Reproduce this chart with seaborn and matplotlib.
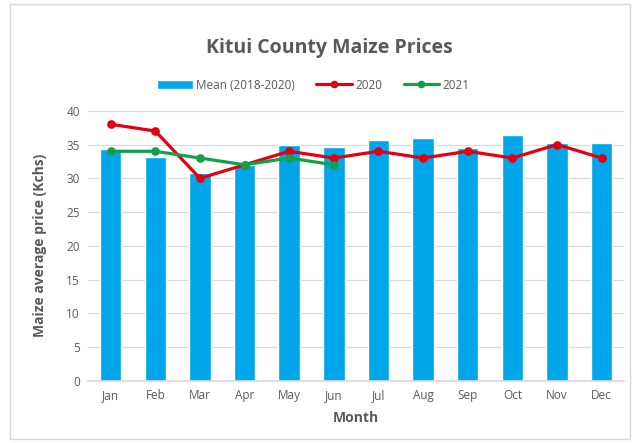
import pandas as pd
import numpy as np
import seaborn as sns
from matplotlib import pyplot as plt
from matplotlib.patches import Patch
from matplotlib.lines import Line2D

# data
months = ['Jan', 'Feb', 'Mar', 'Apr', 'May', 'Jun', 'Jul', 'Aug', 'Sep', 'Oct', 'Nov', 'Dec']
mean_2018_2020 = [34.4, 33.2, 30.8, 32.0, 35.0, 34.7, 35.6, 35.9, 34.5, 36.4, 35.2, 35.2]
price_2020 = [38, 37, 30, 32, 34, 33, 34, 33, 34, 33, 35, 33]
price_2021 = [34, 34, 33, 32, 33, 32]

bar_color = '#00A6EA'
red = '#E3000F'
green = '#12A14B'
grey_text = '#595959'

sns.set_theme(style='white')
plt.rcParams['font.family'] = ['Open Sans', 'DejaVu Sans']

fig, ax = plt.subplots(figsize=(6.4, 4.43), dpi=100)
fig.subplots_adjust(left=0.138, right=0.975, top=0.75, bottom=0.14)

# bars
sns.barplot(x=months, y=mean_2018_2020, color=bar_color, width=0.48, saturation=1, ax=ax, zorder=2)

# lines
lines = pd.DataFrame({
    'month': months * 2,
    'price': price_2020 + price_2021 + [np.nan] * (12 - len(price_2021)),
    'year': ['2020'] * 12 + ['2021'] * 12,
})
lines = lines.dropna()
sns.pointplot(data=lines, x='month', y='price', hue='year', order=months,
              palette={'2020': red, '2021': green}, markers='o', markersize=4.5,
              linewidth=2.3, errorbar=None, ax=ax, legend=False, zorder=3)

ax.set_ylim(0, 40)
ax.set_xlim(-0.5, 11.5)
ax.set_yticks(range(0, 41, 5))
ax.yaxis.grid(True, color='#D9D9D9', linewidth=0.8, zorder=0)
ax.set_axisbelow(True)
for s in ['top', 'right', 'left']:
    ax.spines[s].set_visible(False)
ax.spines['bottom'].set_color('#D9D9D9')
ax.tick_params(axis='both', colors=grey_text, labelsize=8.5, length=0, pad=6)

ax.set_xlabel('Month', color=grey_text, fontsize=10, fontweight='bold', labelpad=6)
ax.set_ylabel('Maize average price (Kchs)', color=grey_text, fontsize=10, fontweight='bold', labelpad=14)
fig.suptitle('Kitui County Maize Prices', x=0.515, y=0.915, color=grey_text, fontsize=14, fontweight='bold')

handles = [
    Patch(facecolor=bar_color, label='Mean (2018-2020)'),
    Line2D([], [], color=red, lw=2.3, marker='o', ms=4.5, label='2020'),
    Line2D([], [], color=green, lw=2.3, marker='o', ms=4.5, label='2021'),
]
leg = fig.legend(handles=handles, loc='center', bbox_to_anchor=(0.49, 0.808), ncol=3, frameon=False,
                 fontsize=8.5, handlelength=3, columnspacing=1.8, handletextpad=0.3)
for t in leg.get_texts():
    t.set_color(grey_text)

# light chart border
fig.patches.append(plt.Rectangle((0.015, 0.01), 0.97, 0.98, transform=fig.transFigure,
                                 fill=False, edgecolor='#D9D9D9', linewidth=1))

plt.savefig('out.png', dpi=100)
